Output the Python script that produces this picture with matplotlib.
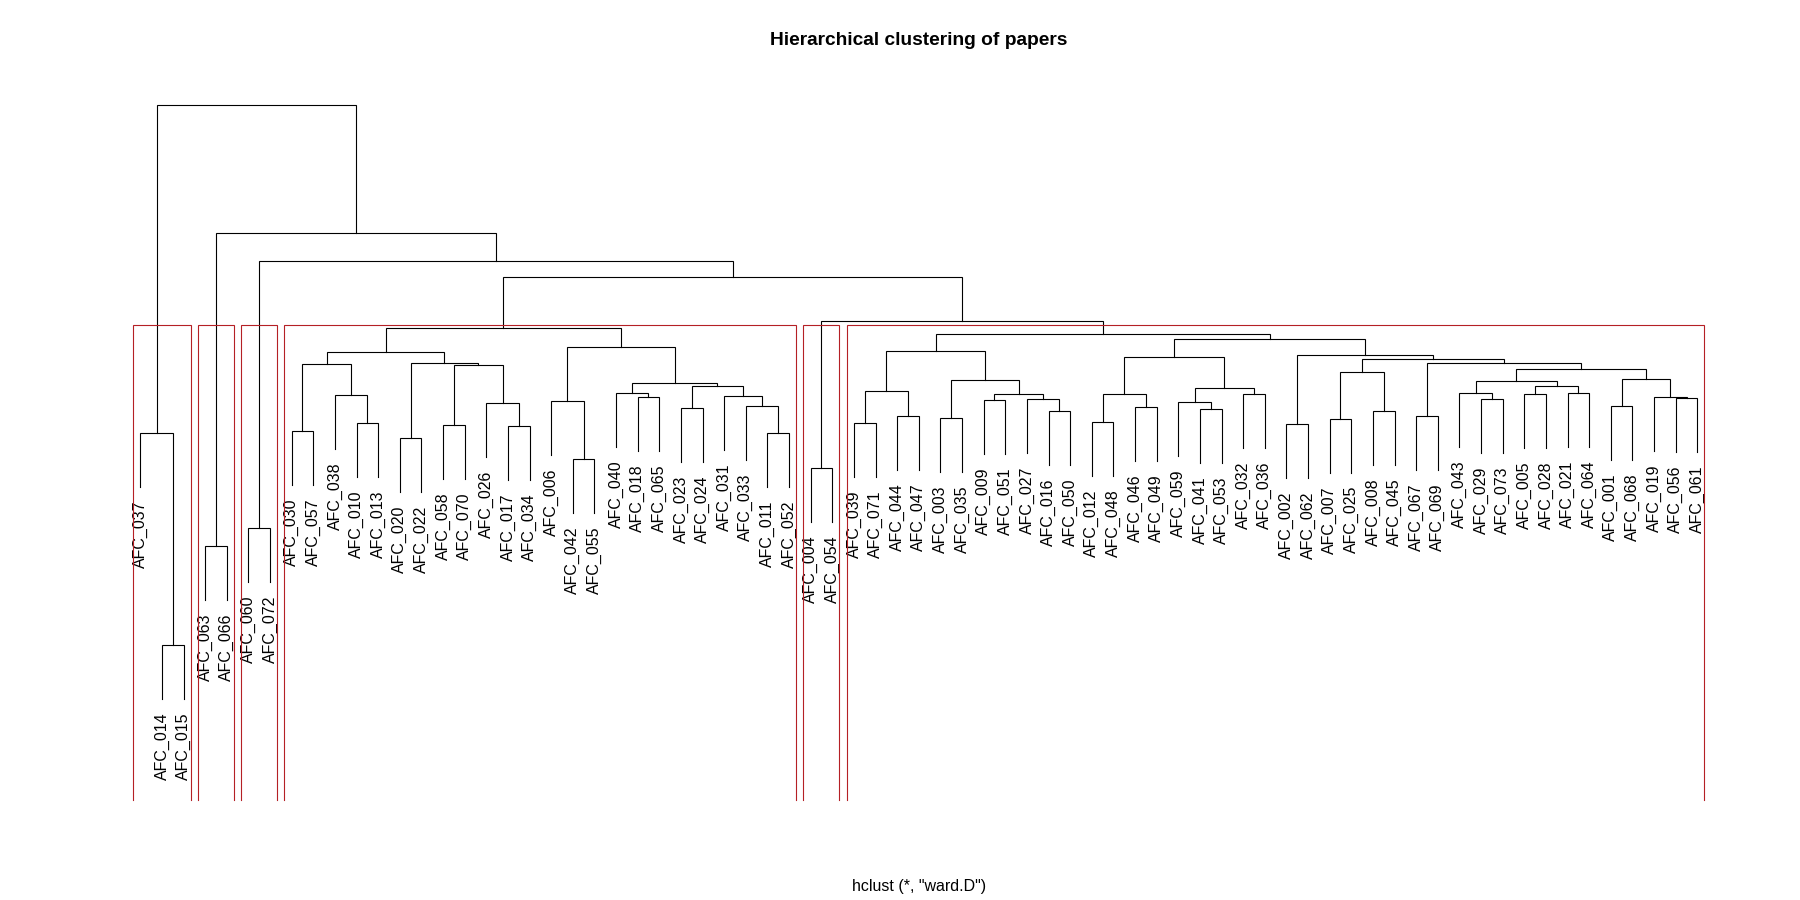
import matplotlib.pyplot as plt

plt.rcParams['font.family'] = ['Liberation Sans', 'DejaVu Sans']

# leaves in the order they are drawn (left to right)
labels = ['AFC_037', 'AFC_014', 'AFC_015', 'AFC_063', 'AFC_066', 'AFC_060', 'AFC_072',
          'AFC_030', 'AFC_057', 'AFC_038', 'AFC_010', 'AFC_013', 'AFC_020', 'AFC_022',
          'AFC_058', 'AFC_070', 'AFC_026', 'AFC_017', 'AFC_034', 'AFC_006', 'AFC_042',
          'AFC_055', 'AFC_040', 'AFC_018', 'AFC_065', 'AFC_023', 'AFC_024', 'AFC_031',
          'AFC_033', 'AFC_011', 'AFC_052', 'AFC_004', 'AFC_054', 'AFC_039', 'AFC_071',
          'AFC_044', 'AFC_047', 'AFC_003', 'AFC_035', 'AFC_009', 'AFC_051', 'AFC_027',
          'AFC_016', 'AFC_050', 'AFC_012', 'AFC_048', 'AFC_046', 'AFC_049', 'AFC_059',
          'AFC_041', 'AFC_053', 'AFC_032', 'AFC_036', 'AFC_002', 'AFC_062', 'AFC_007',
          'AFC_025', 'AFC_008', 'AFC_045', 'AFC_067', 'AFC_069', 'AFC_043', 'AFC_029',
          'AFC_073', 'AFC_005', 'AFC_028', 'AFC_021', 'AFC_064', 'AFC_001', 'AFC_068',
          'AFC_019', 'AFC_056', 'AFC_061']

# merge table, R style: negative = leaf (1-based position above), positive = earlier merge row
merge_a = [-2, -1, -4, -6, -8, -11, -10, 5, -13, -15, -18, -17, 10, 9, 8, -21, -20, -24,
           -23, -26, -30, -29, -28, 20, 19, 17, 15, -32, -34, -36, 29, -38, -40, -43, -42,
           33, 32, 31, -45, -47, 39, -50, -49, -52, 43, 41, -54, -56, -58, 48, -60, -63,
           -62, -65, -67, 54, 53, -69, -72, -71, 58, 57, 51, 50, 47, 46, 38, 28, 27, 4, 3, 2]
merge_b = [-3, 1, -5, -7, -9, -12, 6, 7, -14, -16, -19, 11, 12, 13, 14, -22, 16, -25,
           18, -27, -31, 21, 22, 23, 24, 25, 26, -33, -35, -37, 30, -39, -41, -44, 34,
           35, 36, 37, -46, -48, 40, -51, 42, -53, 44, 45, -55, -57, -59, 49, -61, -64,
           52, -66, -68, 55, 56, -70, -73, 59, 60, 61, 62, 63, 64, 65, 66, 67, 68, 69, 70, 71]
heights = [3.10, 7.33, 5.07, 5.43, 7.37, 7.53, 8.09, 8.71, 7.23, 7.49, 7.47, 7.93, 8.69,
           8.73, 8.95, 6.81, 7.97, 8.05, 8.13, 7.83, 7.33, 7.87, 8.07, 8.27, 8.33, 9.05,
           9.43, 6.63, 7.53, 7.67, 8.17, 7.63, 7.99, 7.77, 8.01, 8.11, 8.39, 8.97, 7.55,
           7.85, 8.11, 7.81, 7.95, 8.11, 8.23, 8.85, 7.51, 7.62, 7.77, 8.56, 7.67, 8.01,
           8.13, 8.11, 8.13, 8.27, 8.37, 7.87, 8.03, 8.05, 8.41, 8.61, 8.73, 8.81, 8.89,
           9.21, 9.31, 9.57, 10.45, 10.77, 11.33, 13.90]

n_clusters = 6

n = len(labels)
hang = 0.1 * (max(heights) - min(heights))

fig = plt.figure(figsize=(18, 9), dpi=100)
ax = fig.add_axes([78 / 1800, 100 / 900, 1681.6 / 1800, 723 / 900])

node_x = {}
for i, (a, b, h) in enumerate(zip(merge_a, merge_b, heights), start=1):
    ends = []
    for c in (a, b):
        if c < 0:
            ends.append((-c, h - hang))
        else:
            ends.append((node_x[c], heights[c - 1]))
    (xa, ya), (xb, yb) = ends
    ax.plot([xa, xa, xb, xb], [ya, h, h, yb], color='black', lw=0.8,
            solid_joinstyle='miter')
    node_x[i] = (xa + xb) / 2
    for c, (xe, ye) in zip((a, b), ends):
        if c < 0:
            ax.annotate(labels[-c - 1], (xe, ye), xytext=(0, -9.5),
                        textcoords='offset points', rotation=90,
                        ha='center', va='top', fontsize=11.5)

# clusters for k groups, boxes like rect.hclust
top = sorted(heights, reverse=True)
cut = (top[n_clusters - 2] + top[n_clusters - 1]) / 2


def leaves_of(c):
    if c < 0:
        return [-c]
    return leaves_of(merge_a[c - 1]) + leaves_of(merge_b[c - 1])


def split(c):
    if c > 0 and heights[c - 1] > cut:
        return split(merge_a[c - 1]) + split(merge_b[c - 1])
    return [leaves_of(c)]


groups = split(len(heights))
for g in groups:
    x0, x1 = min(g) - 0.34, max(g) + 0.33
    ax.plot([x0, x0, x1, x1], [0, cut, cut, 0], color='#B52025', lw=0.8,
            solid_joinstyle='miter', clip_on=False, zorder=5)

ax.set_xlim(1 - 0.04 * (n - 1), n + 0.04 * (n - 1))
ax.set_ylim(0, max(heights) * 1.04)
ax.axis('off')

fig.text(919 / 1800, 1 - 40.7 / 900, 'Hierarchical clustering of papers',
         ha='center', va='center', fontsize=13.8, fontweight='bold')
fig.text(919 / 1800, 1 - 886.7 / 900, 'hclust (*, "ward.D")',
         ha='center', va='center', fontsize=11.5)

fig.savefig('out.png', dpi=100)
